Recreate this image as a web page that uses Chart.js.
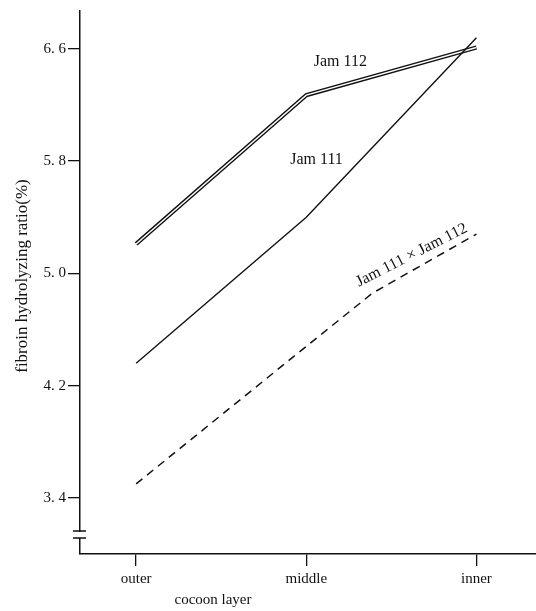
<!DOCTYPE html>
<html>
<head>
<meta charset="utf-8">
<script src="https://cdn.jsdelivr.net/npm/chart.js@4/dist/chart.umd.min.js"></script>
<style>
  html, body { margin: 0; padding: 0; background: #fff; }
  #wrap { width: 536px; height: 611px; }
</style>
</head>
<body>
<div id="wrap"><canvas id="chartCanvas" width="536" height="611"></canvas></div>
<script>
// data
const layers = ["outer", "middle", "inner"];
const layerPos = [0, 1, 2];
const jam112 = [5.21, 6.27, 6.61];
const jam111 = [4.36, 5.40, 6.68];
// hybrid line bends a bit after "middle"
const hybridPos = [0, 1, 1.39, 2];
const hybrid = [3.50, 4.48, 4.86, 5.28];
const yTicks = [3.4, 4.2, 5.0, 5.8, 6.6];

const serif = "'Liberation Serif', 'DejaVu Serif', serif";

function pts(xs, ys) {
  return xs.map((x, i) => ({ x: x, y: ys[i] }));
}

// series labels written on the plot
const notes = [
  { text: "Jam 112", x: 1.2, y: 6.51, rot: 0 },
  { text: "Jam 111", x: 1.06, y: 5.81, rot: 0 },
  { text: "Jam 111 × Jam 112", x: 1.62, y: 5.13, rot: -27 }
];

const extras = {
  id: "extras",
  afterDraw(chart) {
    const c = chart.ctx;
    const xs = chart.scales.x, ys = chart.scales.y;
    c.save();
    c.fillStyle = "#111";
    c.font = "16px " + serif;
    c.textAlign = "center";
    c.textBaseline = "middle";
    notes.forEach(n => {
      c.save();
      c.translate(xs.getPixelForValue(n.x), ys.getPixelForValue(n.y));
      c.rotate(n.rot * Math.PI / 180);
      c.fillText(n.text, 0, 0);
      c.restore();
    });

    // axis titles
    c.font = "15px " + serif;
    c.fillText("cocoon layer", 213, 600);
    c.font = "17px " + serif;
    c.save();
    c.translate(23, 276);
    c.rotate(-Math.PI / 2);
    c.fillText("fibroin hydrolyzing ratio(%)", 0, 0);
    c.restore();

    // break in the y axis
    const ax = xs.left;
    const b = ys.bottom;
    c.fillStyle = "#fff";
    c.fillRect(ax - 4, b - 22, 8, 6);
    c.strokeStyle = "#111";
    c.lineWidth = 1.5;
    c.beginPath();
    c.moveTo(ax - 7, b - 23); c.lineTo(ax + 6, b - 23);
    c.moveTo(ax - 7, b - 16); c.lineTo(ax + 6, b - 16);
    c.stroke();
    c.restore();
  }
};

const ctx = document.getElementById("chartCanvas").getContext("2d");
const chart = new Chart(ctx, {
  type: "line",
  data: {
    datasets: [
      {
        label: "Jam 112",
        data: pts(layerPos, jam112),
        borderColor: "#111",
        borderWidth: 4.2,
        pointRadius: 0,
        tension: 0,
        order: 3
      },
      {
        label: "Jam 112 inner",
        data: pts(layerPos, jam112),
        borderColor: "#fff",
        borderWidth: 1.4,
        pointRadius: 0,
        tension: 0,
        order: 2
      },
      {
        label: "Jam 111",
        data: pts(layerPos, jam111),
        borderColor: "#111",
        borderWidth: 1.4,
        pointRadius: 0,
        tension: 0,
        order: 1
      },
      {
        label: "Jam 111 × Jam 112",
        data: pts(hybridPos, hybrid),
        borderColor: "#111",
        borderWidth: 1.5,
        borderDash: [8, 6],
        pointRadius: 0,
        tension: 0,
        order: 1
      }
    ]
  },
  options: {
    responsive: false,
    animation: false,
    layout: { padding: { top: 8, right: 0, left: 0, bottom: 0 } },
    plugins: {
      legend: { display: false },
      tooltip: { enabled: false }
    },
    scales: {
      x: {
        type: "linear",
        min: -0.33,
        max: 2.35,
        afterBuildTicks: s => { s.ticks = layerPos.map(v => ({ value: v })); },
        afterFit: s => { s.height = 57; },
        ticks: {
          callback: v => layers[v],
          color: "#111",
          font: { family: serif, size: 15 },
          padding: 4
        },
        grid: { drawOnChartArea: false, color: "#111", tickLength: 12, lineWidth: 1.3 },
        border: { color: "#111", width: 1.5 }
      },
      y: {
        type: "linear",
        min: 3.0,
        max: 6.87,
        afterBuildTicks: s => { s.ticks = yTicks.map(v => ({ value: v })); },
        afterFit: s => { s.width = 80; },
        ticks: {
          callback: v => v.toFixed(1).replace(".", ". "),
          color: "#111",
          font: { family: serif, size: 15 },
          padding: 2
        },
        grid: { drawOnChartArea: false, color: "#111", tickLength: 12, lineWidth: 1.3 },
        border: { color: "#111", width: 1.5 }
      }
    }
  },
  plugins: [extras]
});
</script>
</body>
</html>
